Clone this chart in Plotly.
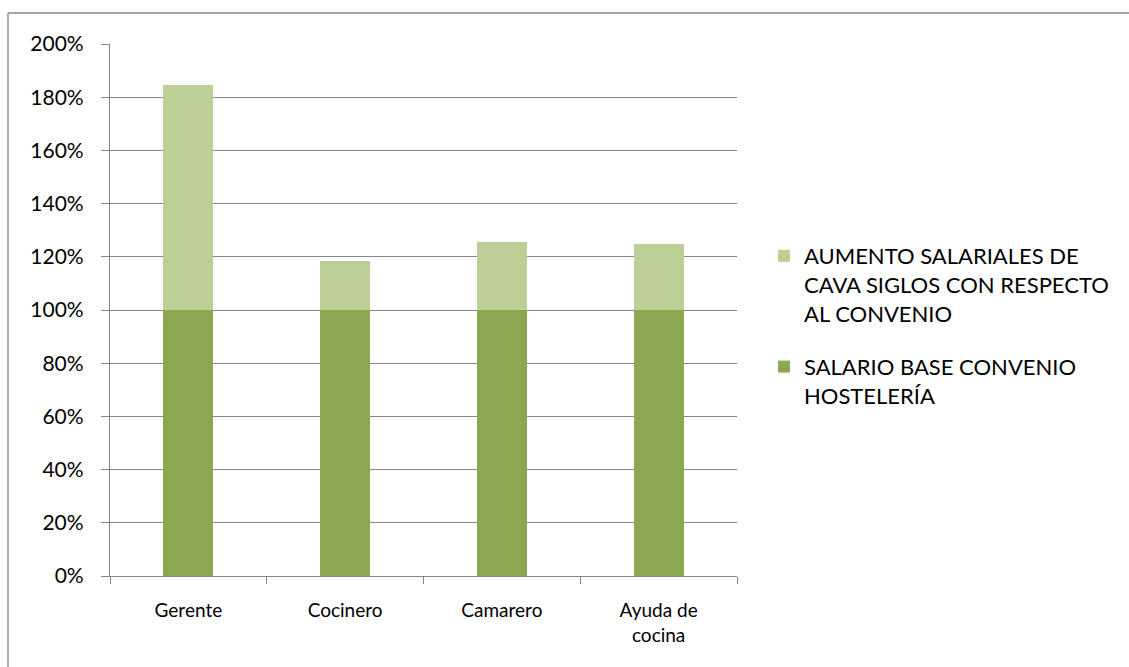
import plotly.graph_objects as go

categories = ["Gerente", "Cocinero", "Camarero", "Ayuda de<br>cocina"]
base_values = [1.00, 1.00, 1.00, 1.00]
increase_values = [0.845, 0.185, 0.255, 0.25]
series_names = [
    "SALARIO BASE CONVENIO<br>HOSTELERÍA",
    "AUMENTO SALARIALES DE<br>CAVA SIGLOS CON RESPECTO<br>AL CONVENIO",
]
tick_vals = [0, 0.2, 0.4, 0.6, 0.8, 1.0, 1.2, 1.4, 1.6, 1.8, 2.0]
tick_text = ["0%", "20%", "40%", "60%", "80%", "100%", "120%", "140%", "160%", "180%", "200%"]

W, H = 1129, 667
L, R, T, B = 110, 737, 44, 576

fig = go.Figure()
fig.add_trace(go.Bar(x=categories, y=base_values, name=series_names[0],
                     marker=dict(color="#8ba74f", line=dict(width=0)),
                     width=0.32, legendgroup="a", legendrank=2))
fig.add_trace(go.Bar(x=categories, y=increase_values, name=series_names[1],
                     marker=dict(color="#bbcf97", line=dict(width=0)),
                     width=0.32, legendgroup="b", legendrank=1))

def px(x):
    return (x - L) / (R - L)

def py(y):
    return (B - y) / (B - T)

fig.add_shape(type="line", xref="paper", yref="paper",
              x0=px(8), y0=py(13), x1=px(1130), y1=py(13),
              line=dict(color="#888888", width=1.3))
fig.add_shape(type="line", xref="paper", yref="paper",
              x0=px(8), y0=py(13), x1=px(8), y1=py(668),
              line=dict(color="#888888", width=1.3))

font_family = "Lato, 'Open Sans', sans-serif"
fig.update_layout(
    width=W, height=H,
    barmode="stack",
    margin=dict(l=L, r=W - R, t=T, b=H - B),
    paper_bgcolor="white", plot_bgcolor="white",
    font=dict(family=font_family, size=20, color="#000000"),
    showlegend=True,
    legend=dict(
        traceorder="grouped",
        tracegroupgap=22,
        x=px(764), xanchor="left",
        y=py(235), yanchor="top",
        valign="top",
        font=dict(family=font_family, size=22, color="#000000"),
        itemwidth=30,
        bgcolor="rgba(0,0,0,0)",
    ),
    xaxis=dict(
        type="category",
        showline=True, linecolor="#868686", linewidth=1.3,
        ticks="outside", tickson="boundaries", ticklen=7,
        tickcolor="#868686", tickwidth=1.3,
        showgrid=False, zeroline=False,
        ticklabelstandoff=17,
        tickfont=dict(size=19),
    ),
    yaxis=dict(
        range=[0, 2.0],
        tickvals=tick_vals, ticktext=tick_text,
        showline=True, linecolor="#868686", linewidth=1.3,
        ticks="outside", ticklen=8, tickcolor="#868686", tickwidth=1.3,
        showgrid=True, gridcolor="#868686", gridwidth=1.3,
        zeroline=False,
        ticklabelstandoff=13,
        tickfont=dict(size=21),
    ),
)

fig.write_html("out.html")
